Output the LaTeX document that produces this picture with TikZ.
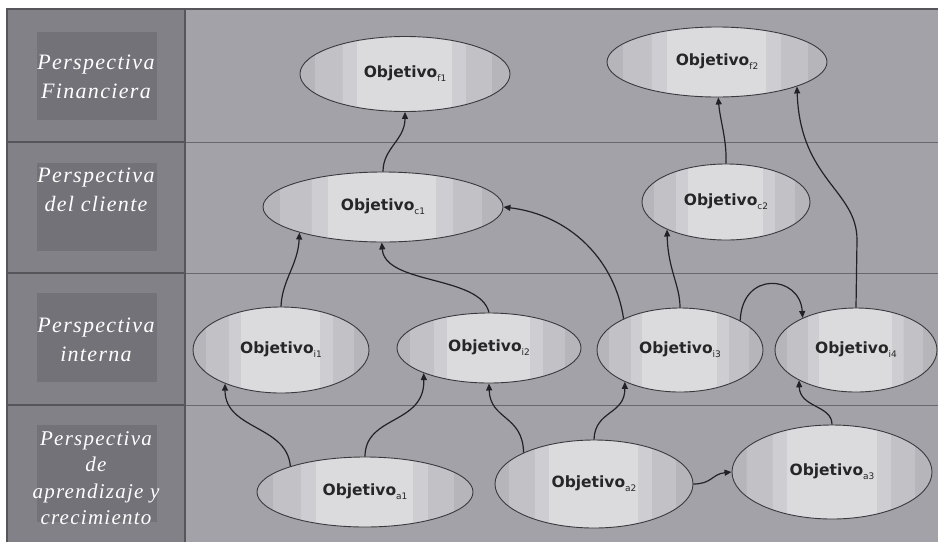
\documentclass[tikz,border=0pt]{standalone}
\usepackage{fontspec}
\usetikzlibrary{shapes.geometric,arrows.meta}
\newfontfamily\labfont[LetterSpace=6]{Liberation Serif}
\newfontfamily\objfont{DejaVu Sans}
\definecolor{mainC}{HTML}{A2A2A8}
\definecolor{colC}{HTML}{818187}
\definecolor{boxC}{HTML}{727278}
\definecolor{sepC}{HTML}{68686E}
\definecolor{frameC}{HTML}{55555A}
\definecolor{edgeC}{HTML}{B6B6BA}
\definecolor{medC}{HTML}{C2C2C6}
\definecolor{ltC}{HTML}{CECED2}
\definecolor{lstC}{HTML}{DBDBDE}
\definecolor{ellC}{HTML}{3A3A3E}
\definecolor{lineC}{HTML}{222226}
\pgfdeclarehorizontalshading{objband}{100bp}{color(0bp)=(edgeC); color(28.5bp)=(edgeC); color(28.51bp)=(medC); color(35bp)=(medC); color(35.01bp)=(ltC); color(38.5bp)=(ltC); color(38.51bp)=(lstC); color(61bp)=(lstC); color(61.01bp)=(ltC); color(64.5bp)=(ltC); color(64.51bp)=(medC); color(70.5bp)=(medC); color(70.51bp)=(edgeC); color(100bp)=(edgeC)}
\newcommand\objt[1]{Objetivo\raisebox{-4pt}{\mdseries\fontsize{9}{9}\selectfont #1}}
\tikzset{
  obj/.style={ellipse, draw=ellC, line width=0.9pt, shading=objband, inner sep=0pt,
    font=\objfont\bfseries\fontsize{15.5}{18}\selectfont, text=black!85},
  lab/.style={align=center, text=white, font=\labfont\itshape\fontsize{22}{29}\selectfont},
  labbox/.style={fill=boxC, draw=none},
  conn/.style={draw=lineC, line width=1.2pt, -{Triangle[length=7pt,width=6pt]}}
}
\begin{document}
\begin{tikzpicture}[x=1pt,y=-1pt]
\useasboundingbox (0,0) rectangle (938,542);
\fill[white] (0,0) rectangle (938,542);
% panels
\fill[mainC] (7,9) rectangle (938,542);
\fill[colC] (7,9) rectangle (185,542);
\fill[labbox] (37,32) rectangle (157,120);
\fill[labbox] (37,163) rectangle (157,251);
\fill[labbox] (37,293) rectangle (157,382);
\fill[labbox] (37,425) rectangle (157,522);
\foreach \yy in {142,273,405} {
  \draw[sepC, line width=1pt] (185,\yy) -- (938,\yy);
  \draw[frameC, line width=1.6pt] (7,\yy) -- (185,\yy);
}
\draw[frameC, line width=1.5pt] (185,9) -- (185,542);
\draw[frameC, line width=2pt] (7,542) -- (7,9) -- (938,9);
% row labels
\node[lab] (l1) at (96,77) {Perspectiva\\Financiera};
\node[lab] (l2) at (96,190) {Perspectiva\\del cliente};
\node[lab] (l3) at (96,340) {Perspectiva\\interna};
\node[lab, font=\labfont\itshape\fontsize{21}{26.5}\selectfont] (l4) at (96,478) {Perspectiva\\de\\aprendizaje y\\crecimiento};
% objectives
\node[obj, minimum width=210pt, minimum height=75pt] (f1) at (405,74) {\objt{f1}};
\node[obj, minimum width=220pt, minimum height=70pt] (f2) at (717,62) {\objt{f2}};
\node[obj, minimum width=240pt, minimum height=70pt] (c1) at (383,207) {\objt{c1}};
\node[obj, minimum width=168pt, minimum height=76pt] (c2) at (726,202) {\objt{c2}};
\node[obj, minimum width=176pt, minimum height=86pt] (i1) at (281,350) {\objt{i1}};
\node[obj, minimum width=184pt, minimum height=70pt] (i2) at (489,348) {\objt{i2}};
\node[obj, minimum width=166pt, minimum height=84pt] (i3) at (680,350) {\objt{i3}};
\node[obj, minimum width=162pt, minimum height=84pt] (i4) at (856,350) {\objt{i4}};
\node[obj, minimum width=216pt, minimum height=70pt] (a1) at (365,492) {\objt{a1}};
\node[obj, minimum width=198pt, minimum height=88pt] (a2) at (594,484) {\objt{a2}};
\node[obj, minimum width=200pt, minimum height=94pt] (a3) at (832,472) {\objt{a3}};
% connectors
\draw[conn] (c1.north) .. controls (383,148) and (405,140) .. (f1.south);
\draw[conn] (i1.north) .. controls (282,280) and (298,265) .. (c1.-163);
\draw[conn] (i2.north) .. controls (480,275) and (385,285) .. (c1.-92);
\draw[conn] (i3.151) .. controls (615,260) and (570,215) .. (c1.east);
\draw[conn] (i3.north) .. controls (680,285) and (668,270) .. (c2.-155);
\draw[conn] (i3.26) .. controls (742,270) and (800,275) .. (i4.149);
\draw[conn] (i4.north) -- (857,240) .. controls (857,190) and (800,180) .. (f2.-17);
\draw[conn] (c2.north) .. controls (727,140) and (720,120) .. (f2.-88);
\draw[conn] (a1.161) .. controls (287,425) and (225,430) .. (i1.-149);
\draw[conn] (a1.north) .. controls (365,415) and (425,425) .. (i2.-159);
\draw[conn] (a2.156) .. controls (523,415) and (490,420) .. (i2.south);
\draw[conn] (a2.north) .. controls (595,410) and (625,415) .. (i3.-150);
\draw[conn] (a2.east) .. controls (712,484) and (712,474) .. (a3.west);
\draw[conn] (a3.north) .. controls (832,405) and (800,408) .. (i4.-152);
\end{tikzpicture}
\end{document}
